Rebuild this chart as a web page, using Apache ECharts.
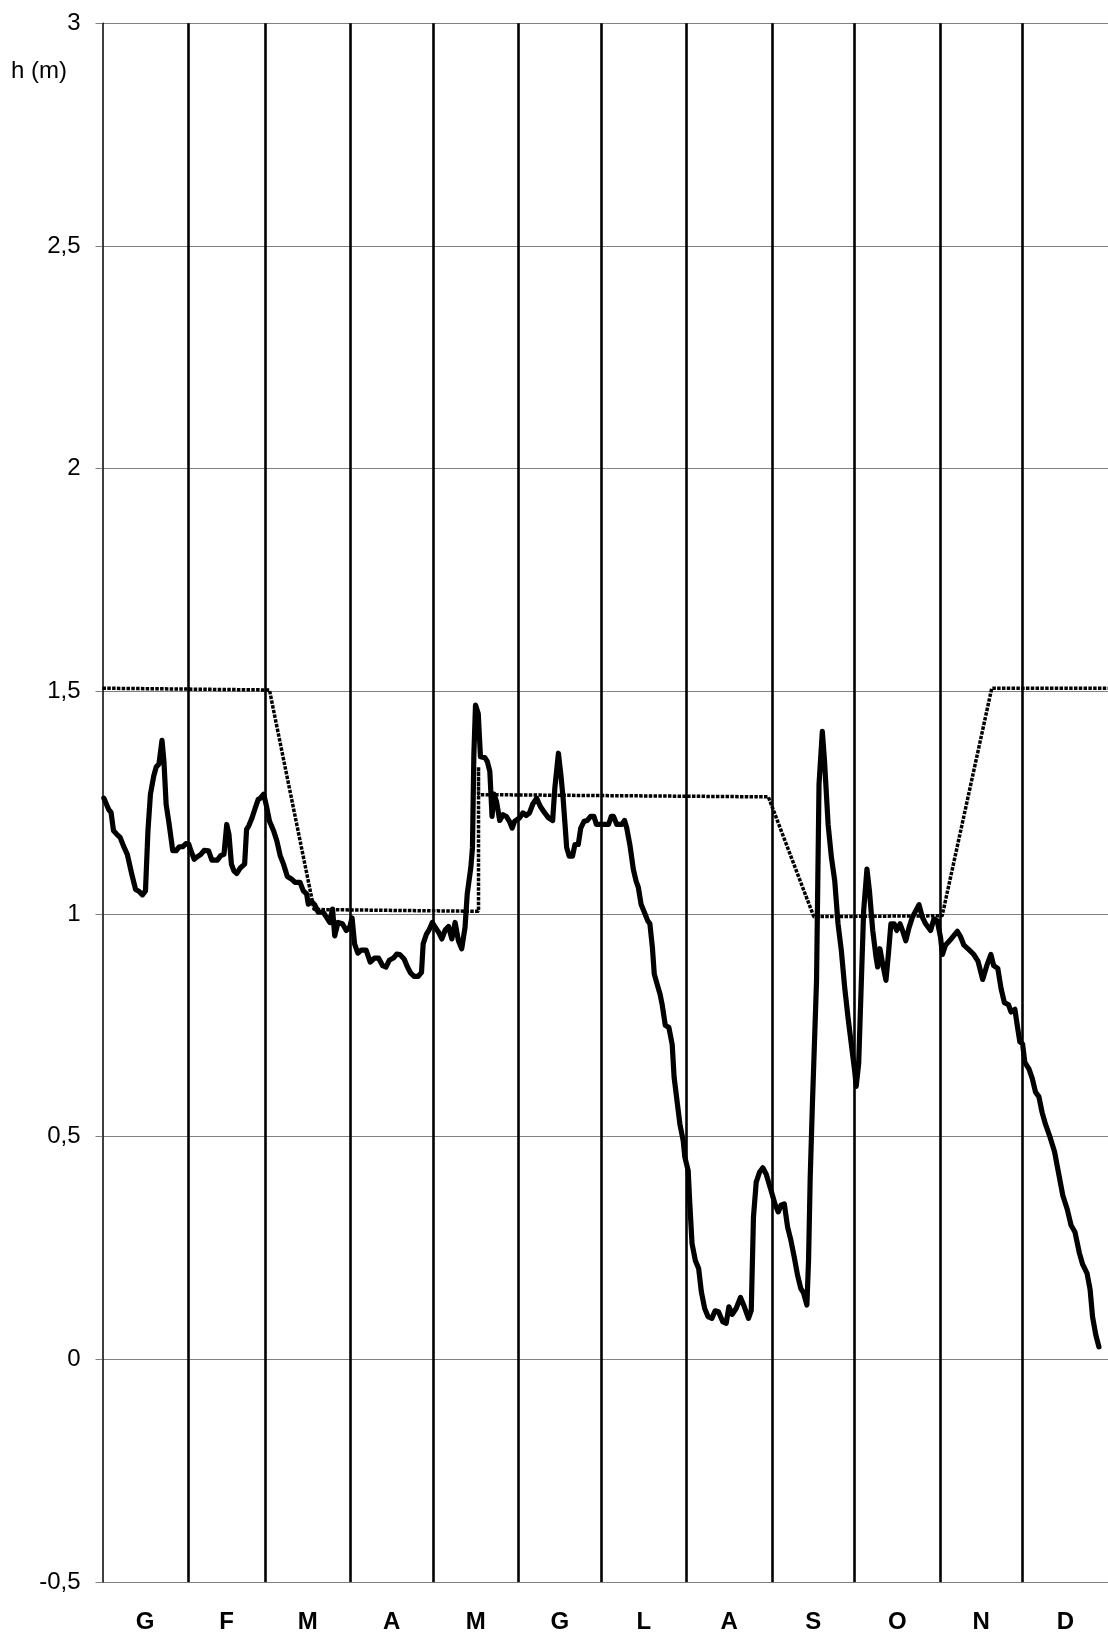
<!DOCTYPE html>
<html>
<head>
<meta charset="utf-8">
<script src="https://cdn.jsdelivr.net/npm/echarts@6/dist/echarts.min.js"></script>
<style>
  html, body { margin: 0; padding: 0; background: #fff; }
  #chart { width: 1108px; height: 1634px; }
</style>
</head>
<body>
<div id="chart"></div>
<script>
// Month letters (Italian initials) and their day-of-year positions
const monthLetters = ['G','F','M','A','M','G','L','A','S','O','N','D'];
const monthMidDays = [15.5, 45, 74.5, 105, 135.5, 166, 196.5, 227.5, 258, 288.5, 319, 349.5];
const monthStartDays = [31, 59, 90, 120, 151, 181, 212, 243, 273, 304, 334];

// Y tick values
const yMin = -0.5, yMax = 3, yStep = 0.5;

// Observed water level h (m) : [day of year, value]
const observedLevel = [
  [0.5,1.26],[2.2,1.235],[3.1,1.228],[4,1.187],[5.2,1.179],[6.4,1.172],[7.6,1.153],[9,1.134],[10.6,1.09],[12,1.055],
  [13.2,1.051],[14.5,1.043],[15.6,1.052],[16.5,1.187],[17.4,1.269],[18.6,1.31],[19.5,1.33],[20.5,1.337],[21.6,1.39],[22.3,1.343],
  [23.1,1.246],[24.2,1.201],[25.5,1.142],[26.7,1.142],[27.9,1.151],[29.1,1.151],[30.3,1.158],[31.3,1.157],[32.1,1.142],[33.3,1.123],
  [34.5,1.129],[35.7,1.134],[36.9,1.143],[38.5,1.142],[39.7,1.121],[41.7,1.121],[42.9,1.131],[44.1,1.134],[45.1,1.201],[45.9,1.179],
  [46.8,1.112],[47.7,1.097],[48.7,1.091],[50.1,1.104],[51.6,1.112],[52.3,1.19],[53.1,1.198],[54.3,1.216],[55.5,1.239],[56.5,1.257],
  [57.3,1.26],[58.5,1.269],[59.5,1.243],[60.6,1.209],[62.1,1.187],[63.3,1.164],[64.5,1.131],[65.7,1.112],[67.1,1.084],[68.7,1.078],
  [69.9,1.071],[71.7,1.071],[72.9,1.052],[74.1,1.045],[74.7,1.022],[75.9,1.028],[77.1,1.02],[78.3,1.004],[80.1,1.004],[81.3,0.993],
  [82.5,0.981],[83.5,1.011],[84.3,0.951],[85.5,0.981],[87.1,0.978],[88.5,0.963],[89.7,0.97],[90.6,0.991],[91.5,0.933],[92.7,0.912],
  [93.9,0.919],[95.7,0.919],[97.2,0.892],[98.7,0.901],[100.2,0.901],[101.7,0.884],[102.9,0.881],[104.1,0.896],[105.6,0.901],[106.8,0.91],
  [107.9,0.909],[109.5,0.899],[110.7,0.881],[111.9,0.867],[113.1,0.86],[114.6,0.86],[115.8,0.869],[116.4,0.933],[117.6,0.955],[118.7,0.966],
  [119.7,0.981],[120.9,0.969],[122,0.959],[123.2,0.944],[124.4,0.964],[125.6,0.972],[126.8,0.944],[128,0.981],[129.2,0.94],[130.4,0.922],
  [131.6,0.97],[132.4,1.045],[133.7,1.104],[134.3,1.149],[134.8,1.357],[135.4,1.469],[136.4,1.45],[137.2,1.353],[138.8,1.351],[139.7,1.342],
  [140.6,1.32],[141.4,1.219],[142.1,1.269],[143,1.253],[144.2,1.21],[145.4,1.223],[146.6,1.219],[147.8,1.207],[148.7,1.193],[149.6,1.208],
  [151.4,1.216],[152.6,1.227],[153.8,1.221],[155,1.227],[156.2,1.247],[157.6,1.26],[158.9,1.242],[160.4,1.228],[161.9,1.216],[163.4,1.21],
  [164.2,1.283],[165.5,1.361],[166.4,1.312],[167.2,1.26],[167.9,1.201],[168.5,1.149],[169.4,1.13],[170.6,1.13],[171.5,1.156],[172.7,1.156],
  [173.6,1.193],[174.8,1.208],[176,1.21],[177.2,1.219],[178.4,1.219],[179.3,1.201],[180.7,1.201],[182.5,1.201],[183.7,1.201],[184.7,1.219],
  [185.5,1.219],[186.7,1.201],[188.5,1.201],[189.5,1.21],[190.3,1.193],[191.5,1.153],[192.7,1.1],[193.7,1.074],[194.5,1.06],[195.5,1.022],
  [196.7,1.004],[197.9,0.985],[198.7,0.978],[199.6,0.926],[200.3,0.865],[201.3,0.843],[202.4,0.82],[203.2,0.795],[204.3,0.75],[205.6,0.745],
  [206.8,0.707],[207.5,0.633],[208.7,0.573],[209.6,0.528],[210.8,0.491],[211.4,0.454],[212.6,0.424],[213.2,0.349],[214,0.26],[215.2,0.222],
  [216.4,0.204],[217.4,0.151],[218.6,0.114],[219.8,0.096],[221.2,0.092],[222.4,0.109],[223.6,0.107],[225.2,0.084],[226.4,0.081],[227.4,0.118],
  [228.6,0.101],[230,0.114],[231.6,0.139],[233,0.118],[234.5,0.092],[235.5,0.11],[236.3,0.319],[237.3,0.398],[238.5,0.42],[239.7,0.43],
  [240.9,0.416],[242.7,0.379],[244.1,0.349],[245.3,0.331],[246.3,0.346],[247.5,0.349],[248.7,0.297],[249.9,0.267],[251.1,0.23],[252.3,0.189],
  [253.5,0.159],[254.5,0.149],[255.7,0.122],[256.3,0.222],[256.9,0.409],[257.7,0.573],[258.2,0.665],[259.2,0.851],[260.1,1.291],[261.3,1.41],
  [262.1,1.343],[263.4,1.201],[264.6,1.127],[265.8,1.075],[267,0.978],[268.2,0.918],[269.4,0.836],[270.6,0.769],[271.8,0.709],[273,0.65],
  [273.6,0.613],[274.5,0.665],[275.4,0.836],[276.3,1.007],[277.5,1.101],[278.4,1.052],[279.6,0.963],[280.8,0.903],[281.4,0.881],[282.2,0.922],
  [283.2,0.888],[284.4,0.851],[285.3,0.911],[286.2,0.978],[287.4,0.978],[288.3,0.963],[289.5,0.978],[290.4,0.963],[291.6,0.94],[292.8,0.97],
  [294,0.993],[295.2,1.007],[296.4,1.021],[297.6,0.993],[298.8,0.978],[300.6,0.963],[301.8,0.989],[303,0.985],[304.2,0.948],[304.9,0.909],
  [306,0.93],[308.2,0.945],[310.3,0.961],[311.4,0.95],[312.7,0.93],[314.5,0.92],[316.3,0.909],[317.8,0.894],[319.5,0.853],[321,0.884],
  [322.5,0.909],[323.5,0.884],[325,0.878],[326.2,0.832],[327.4,0.801],[328.9,0.796],[329.8,0.78],[331.2,0.786],[332.2,0.744],[333,0.713],
  [334,0.708],[334.8,0.667],[336.3,0.652],[337.5,0.631],[338.7,0.6],[339.9,0.59],[341.1,0.554],[342.3,0.528],[343.8,0.502],[345.6,0.466],
  [347,0.42],[348.6,0.368],[350.2,0.337],[351.6,0.301],[353,0.286],[354.6,0.239],[355.8,0.213],[357.4,0.193],[358.5,0.157],[359.4,0.095],
  [360.6,0.054],[361.7,0.028]
];

// Regulation level (dotted): [day of year, value]
const regulationLevel = [
  [0,1.507],[60.6,1.503],[76.8,1.01],[136.5,1.006],[136.5,1.33],[136.5,1.268],
  [241.7,1.263],[258.2,0.994],[304.8,0.996],[322.8,1.507],[365,1.507]
];

const chart = echarts.init(document.getElementById('chart'), null, { renderer: 'canvas' });
const FONT = "'Liberation Sans', Arial, sans-serif";

chart.setOption({
  animation: false,
  backgroundColor: '#ffffff',
  title: {
    text: 'h (m)',
    left: 6,
    top: 54,
    textStyle: { fontFamily: FONT, fontSize: 24, fontWeight: 'normal', color: '#000' }
  },
  grid: { left: 102.5, top: 23.3, width: 1014.7, height: 1565.7, containLabel: false },
  xAxis: {
    type: 'value',
    min: 0,
    max: 365,
    axisLine: { show: false },
    axisTick: { show: false },
    splitLine: { show: false },
    axisLabel: {
      customValues: monthMidDays,
      margin: 28,
      fontFamily: FONT,
      fontSize: 24,
      fontWeight: 'bold',
      color: '#000',
      formatter: function (v) {
        const i = monthMidDays.indexOf(v);
        return i >= 0 ? monthLetters[i] : '';
      }
    }
  },
  yAxis: {
    type: 'value',
    min: yMin,
    max: yMax,
    interval: yStep,
    axisLine: { show: true, lineStyle: { color: '#000', width: 1.5 } },
    axisTick: { show: true, length: 7, lineStyle: { color: '#808080', width: 1 } },
    splitLine: { show: true, lineStyle: { color: '#808080', width: 1 } },
    axisLabel: {
      margin: 22,
      fontFamily: FONT,
      fontSize: 24,
      color: '#000',
      formatter: function (v) { return String(v).replace('.', ','); }
    }
  },
  series: [
    {
      name: 'regolazione',
      type: 'line',
      data: regulationLevel,
      symbol: 'none',
      z: 2,
      lineStyle: { color: '#000', width: 3.5, type: [3.5, 1.3] },
      markLine: {
        silent: true,
        symbol: ['none', 'none'],
        label: { show: false },
        lineStyle: { color: '#000', width: 2.6, type: 'solid' },
        data: monthStartDays.map(d => ({ xAxis: d }))
      }
    },
    {
      name: 'livello',
      type: 'line',
      data: observedLevel,
      symbol: 'none',
      z: 3,
      lineStyle: { color: '#000', width: 5.2, join: 'round', cap: 'round' }
    }
  ]
});
</script>
</body>
</html>
